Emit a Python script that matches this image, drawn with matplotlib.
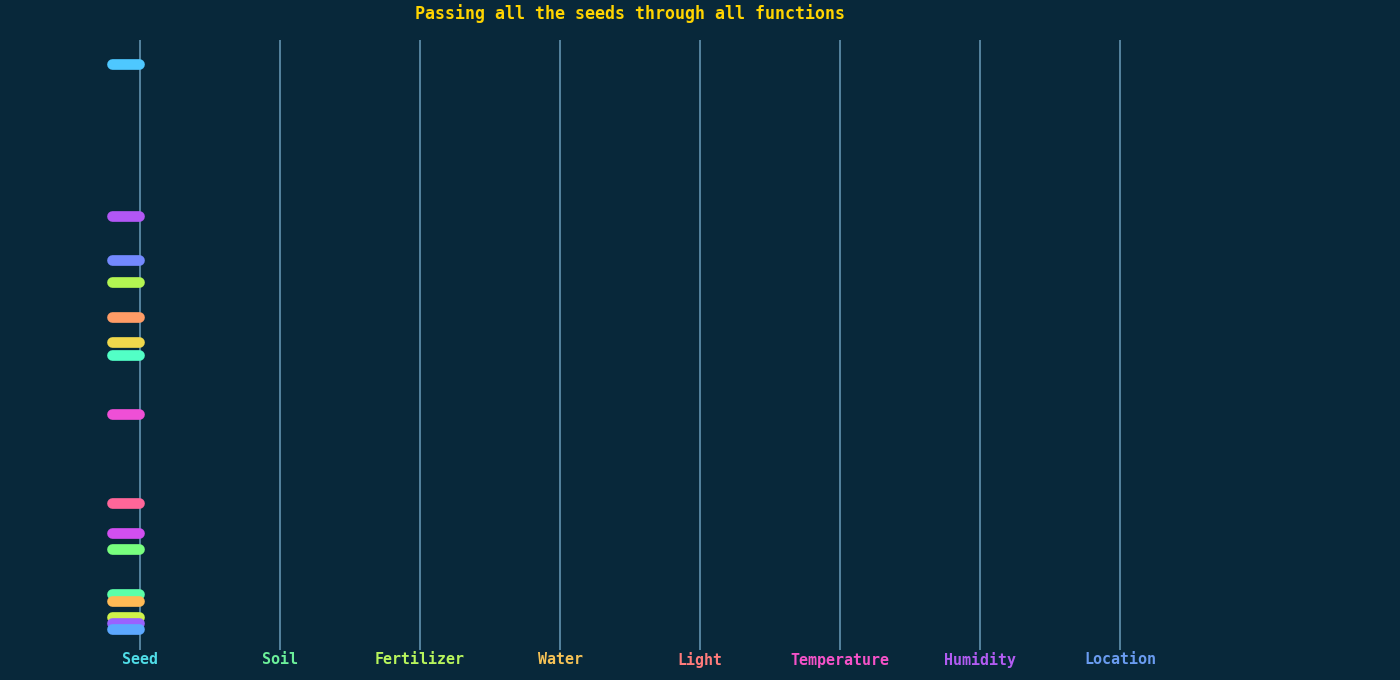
import matplotlib
matplotlib.use("Agg")
import matplotlib.pyplot as plt


# stage names along the x axis and their label colours
stages = ["Seed", "Soil", "Fertilizer", "Water", "Light",
          "Temperature", "Humidity", "Location"]
stage_colors = ["#4fdce6", "#6cf09a", "#b8f55c", "#f5c256", "#ff7b7b",
                "#f552c8", "#b25cf2", "#6a9cf0"]

# seed values (millions), in drawing order
seeds = [4131, 3059, 2749, 2594, 2347, 2171, 2080, 1664,
         1036, 825, 712, 395, 345, 233, 190, 148]
seed_colors = ["#4ec8ff", "#b257f5", "#7389ff", "#b3f552", "#ff9c66",
               "#f0d84c", "#52ffc6", "#ef4fd6", "#ff6699", "#d24ff0",
               "#78ff7e", "#5cffa8", "#ffba55", "#d0f24a", "#9a62ff",
               "#5ca8ff"]

bg = "#08283a"
fig = plt.figure(figsize=(14, 6.8), dpi=100, facecolor=bg)
ax = fig.add_axes([0, 30 / 680, 1, 610 / 680])
ax.set_facecolor(bg)
ax.set_xlim(0, 10)
ax.set_ylim(0, 4300)

# one vertical line per stage
for i in range(len(stages)):
    ax.axvline(i + 1, color="#5b8aa6", lw=1.3, zorder=1)

# seeds sitting just left of the first stage
for v, c in zip(seeds, seed_colors):
    ax.plot([0.8, 0.993], [v, v], color=c, lw=7.7,
            solid_capstyle="round", zorder=2)

for s in ax.spines.values():
    s.set_visible(False)
ax.set_xticks([])
ax.set_yticks([])

for i, (name, c) in enumerate(zip(stages, stage_colors)):
    fig.text((i + 1) * 140 / 1400, 1 - 660 / 680, name, color=c,
             ha="center", va="center", fontsize=10.8,
             family="DejaVu Sans Mono", weight="bold")

fig.text(630 / 1400, 1 - 14 / 680, "Passing all the seeds through all functions",
         color="#ffd400", ha="center", va="center", fontsize=12,
         family="DejaVu Sans Mono", weight="bold")

fig.savefig("out.png", dpi=100, facecolor=bg)
